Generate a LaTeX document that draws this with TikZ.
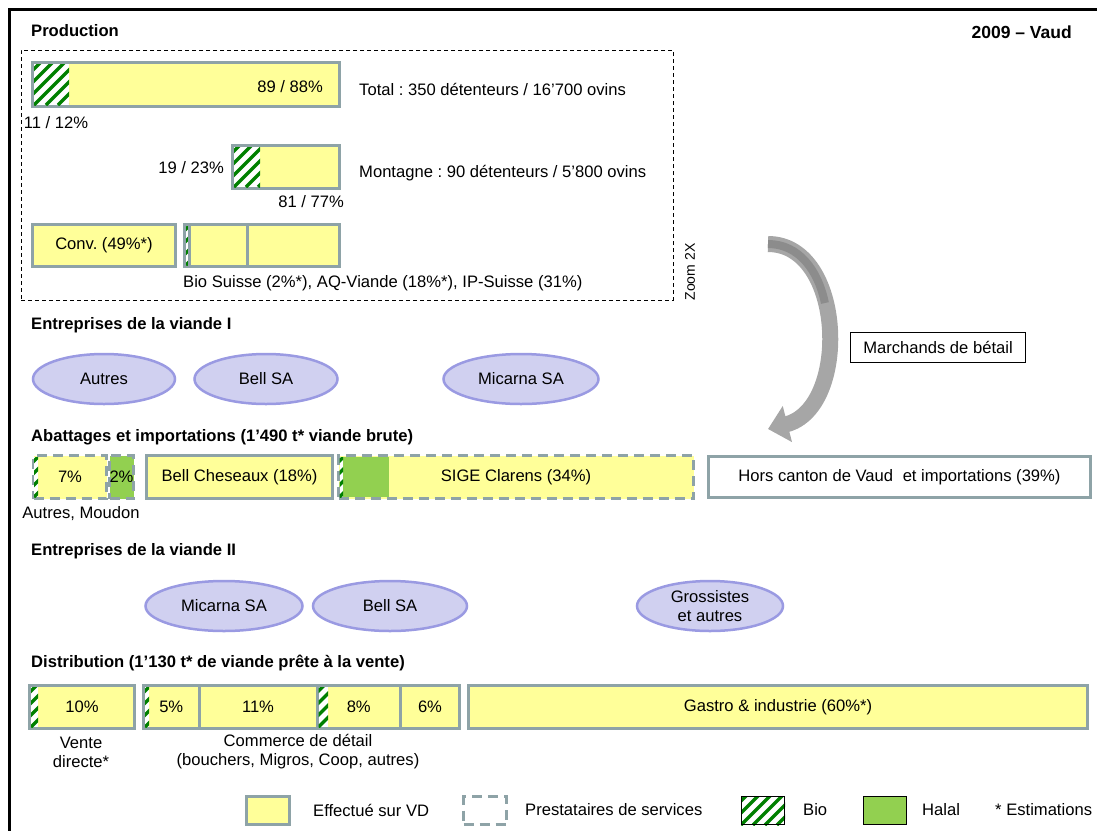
\documentclass[tikz,border=0pt]{standalone}
\usepackage{fontspec}
\setmainfont{Liberation Sans}
\frenchspacing
\usepackage{xcolor}
\definecolor{vdyellow}{HTML}{FFFF99}
\definecolor{boxline}{HTML}{8EA3A7}
\definecolor{biogreen}{HTML}{008000}
\definecolor{halalgreen}{HTML}{92D050}
\definecolor{firmfill}{HTML}{D0D0F0}
\definecolor{firmline}{HTML}{9A9AE2}
\definecolor{arrowgray}{HTML}{A6A6A6}
\definecolor{arrowdark}{HTML}{8C8C8C}
\usepackage{tikz}
\usetikzlibrary{shapes.geometric,arrows.meta}
% green stripes for the organic share: x1, y1, x2, y2
\newcommand{\biohatch}[4]{%
  \begin{scope}
    \clip (#1,#2) rectangle (#3,#4);
    \fill[white] (#1,#2) rectangle (#3,#4);
    \foreach \hs in {-60,-48,...,48}
      \draw[biogreen, line width=3.5pt] (#1+\hs,#4) -- ++(60,-60);
  \end{scope}}

\begin{document}
\begin{tikzpicture}[x=1pt, y=-1pt,
  font=\fontsize{16.6}{19}\selectfont,
  sechead/.style={font=\fontsize{16.6}{19}\selectfont\bfseries, anchor=west, inner sep=0pt},
  lbltext/.style={inner sep=0pt},
  vdbox/.style={draw=boxline, line width=3pt, fill=vdyellow, inner sep=0pt, outer sep=0pt},
  svcbox/.style={vdbox, dash pattern=on 10pt off 6pt},
  firm/.style={ellipse, draw=firmline, line width=2.5pt, fill=firmfill, inner sep=0pt,
               minimum height=50pt, align=center},
  keybox/.style={draw=black, line width=0.8pt, minimum width=43pt, minimum height=28pt, inner sep=0pt},
  flow/.style={arrowgray, line width=16pt, -{Triangle[width=36pt,length=20pt]}}
]
  \useasboundingbox (0,0) rectangle (1097,830);
  \draw[line width=3.5pt] (9.5,845) -- (9.5,9.5) -- (1110,9.5);

  % Production
  \node[sechead] (prod) at (31,31) {Production};
  \node[sechead, anchor=east, font=\fontsize{17.5}{19}\selectfont\bfseries] (year) at (1072,32) {2009 – Vaud};
  \node[draw, line width=1pt, dash pattern=on 4pt off 3pt, minimum width=652pt,
        minimum height=250pt, inner sep=0pt] (zoombox) at (347,175) {};
  \node[rotate=90, font=\fontsize{14}{16}\selectfont, inner sep=0pt] (zoomlbl) at (690,272) {Zoom 2X};

  \node[vdbox, minimum width=307pt, minimum height=44pt] (tot) at (186,84.5) {};
  \biohatch{34}{64}{69}{105}
  \node[lbltext, anchor=east] (totconv) at (323,87) {89 / 88\%};
  \node[lbltext] (totbio) at (56,123) {11 / 12\%};
  \node[lbltext, anchor=west] (totinfo) at (359,89) {Total : 350 détenteurs / 16’700 ovins};

  \node[vdbox, minimum width=107pt, minimum height=43pt] (mont) at (286,167) {};
  \biohatch{234}{147}{260}{187}
  \node[lbltext, anchor=east] (montbio) at (224,168) {19 / 23\%};
  \node[lbltext, anchor=east] (montconv) at (344,202) {81 / 77\%};
  \node[lbltext, anchor=west] (montinfo) at (359,173) {Montagne : 90 détenteurs / 5’800 ovins};

  \node[vdbox, minimum width=143pt, minimum height=42pt] (conv) at (104,245.5) {Conv. (49\%*)};
  \node[vdbox, minimum width=155pt, minimum height=42pt] (label) at (262,245.5) {};
  \biohatch{186}{226}{189}{265}
  \draw[boxline, line width=3pt] ([xshift=4.5pt]label.north west) -- ([xshift=4.5pt]label.south west);
  \draw[boxline, line width=3pt] ([xshift=62.5pt]label.north west) -- ([xshift=62.5pt]label.south west);
  \node[lbltext, anchor=west] (labelinfo) at (183,283) {Bio Suisse (2\%*), AQ-Viande (18\%*), IP-Suisse (31\%)};

  % Entreprises I
  \node[sechead] (entI) at (31,325) {Entreprises de la viande I};
  \node[firm, minimum width=142pt] (autresI) at (104,379) {Autres};
  \node[firm, minimum width=143pt] (bellI) at (266,379) {Bell SA};
  \node[firm, minimum width=155pt] (micI) at (521,379) {Micarna SA};

  \node[draw=black, line width=1pt, minimum width=175pt, minimum height=30pt, inner sep=0pt]
        (march) at (938,347.5) {Marchands de bétail};
  \coordinate (flowS) at (768,244);
  \coordinate (flowE) at (768,429);
  \draw[flow] (flowS) .. controls (845,244) and (850,408) .. (flowE);
  \draw[arrowdark, line width=8pt] (flowS) .. controls (798.8,244) and (818.1,270.2) .. (824.9,303);

  % Abattages
  \node[sechead] (abat) at (31,437) {Abattages et importations (1’490 t* viande brute)};
  \node[svcbox, minimum width=73pt, minimum height=43pt] (autres) at (70,477) {7\%};
  \node[svcbox, fill=halalgreen, minimum width=24pt, minimum height=43pt] (moudon) at (121.5,477) {2\%};
  \biohatch{34}{457}{38}{497}
  \node[lbltext] (autreslbl) at (81,514) {Autres, Moudon};
  \node[vdbox, minimum width=186pt, minimum height=43pt] (bellch) at (239.5,477) {Bell Cheseaux (18\%)};
  \node[svcbox, minimum width=355pt, minimum height=43pt] (sige) at (516,477) {SIGE Clarens (34\%)};
  \fill[halalgreen] (343,457) rectangle (389,497);
  \biohatch{339.5}{457}{343}{497}
  \node[vdbox, fill=white, minimum width=382pt, minimum height=41pt] (hors) at (899.5,477)
        {Hors canton de Vaud\hspace{5pt} et importations (39\%)};

  % Entreprises II
  \node[sechead] (entII) at (31,551) {Entreprises de la viande II};
  \node[firm, minimum width=157pt] (micII) at (224,606) {Micarna SA};
  \node[firm, minimum width=154pt] (bellII) at (390,606) {Bell SA};
  \node[firm, minimum width=146pt] (gros) at (710,606) {Grossistes\\et autres};

  % Distribution
  \node[sechead] (distr) at (31,663) {Distribution (1’130 t* de viande prête à la vente)};
  \node[vdbox, minimum width=105pt, minimum height=43pt] (direct) at (82,707) {10\%};
  \biohatch{31}{687}{38}{727}
  \node[vdbox, minimum width=55.5pt, minimum height=43pt] (com1) at (171.25,707) {5\%};
  \node[vdbox, minimum width=118pt, minimum height=43pt] (com2) at (258,707) {11\%};
  \node[vdbox, minimum width=83.5pt, minimum height=43pt] (com3) at (358.75,707) {8\%};
  \node[vdbox, minimum width=59pt, minimum height=43pt] (com4) at (430,707) {6\%};
  \biohatch{145}{687}{149}{727}
  \biohatch{318.5}{687}{328}{727}
  \node[vdbox, minimum width=619pt, minimum height=43pt] (gastro) at (778,707) {Gastro \& industrie (60\%*)};
  \node[lbltext, align=center] (directlbl) at (81,752) {Vente\\directe*};
  \node[lbltext, align=center] (comlbl) at (298,752) {Commerce de détail\\(bouchers, Migros, Coop, autres)};

  % legend
  \node[vdbox, minimum width=43pt, minimum height=28pt] (keyvd) at (268,810.5) {};
  \node[lbltext, anchor=west] (keyvdtxt) at (313,810) {Effectué sur VD};
  \node[svcbox, fill=none, minimum width=43pt, minimum height=28pt] (keysvc) at (485,810.5) {};
  \node[lbltext, anchor=west] (keysvctxt) at (525,810) {Prestataires de services};
  \biohatch{741}{796}{785}{825}
  \node[keybox] (keybio) at (763,810.5) {};
  \node[lbltext, anchor=west] (keybiotxt) at (803,810) {Bio};
  \node[keybox, fill=halalgreen] (keyhalal) at (884.5,810.5) {};
  \node[lbltext, anchor=west] (keyhalaltxt) at (922,810) {Halal};
  \node[lbltext, anchor=west] (keyest) at (995,810) {* Estimations};
\end{tikzpicture}
\end{document}
